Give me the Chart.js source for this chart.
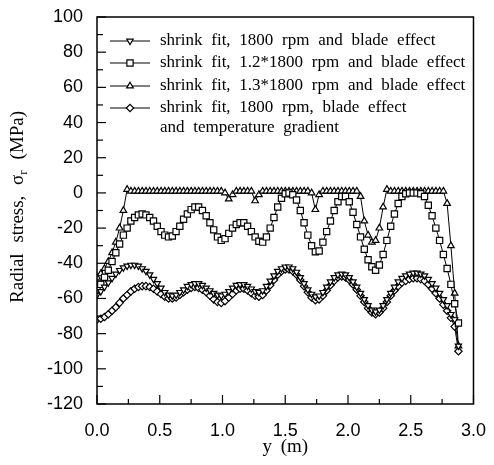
<!DOCTYPE html>
<html>
<head>
<meta charset="utf-8">
<script src="https://cdn.jsdelivr.net/npm/chart.js@4.4.1/dist/chart.umd.min.js"></script>
<style>
  html, body { margin: 0; padding: 0; background: #fff; }
</style>
</head>
<body>
<canvas id="myChart" width="494" height="465"></canvas>
<script>
// radial position y (m)
const yPos = [0.00, 0.03, 0.06, 0.09, 0.12, 0.15, 0.18, 0.21, 0.24, 0.27,
  0.30, 0.33, 0.36, 0.39, 0.42, 0.45, 0.48, 0.51, 0.54, 0.57,
  0.60, 0.63, 0.66, 0.69, 0.72, 0.75, 0.78, 0.81, 0.84, 0.87,
  0.90, 0.93, 0.96, 0.99, 1.02, 1.05, 1.08, 1.11, 1.14, 1.17,
  1.20, 1.23, 1.26, 1.29, 1.32, 1.35, 1.38, 1.41, 1.44, 1.47,
  1.50, 1.53, 1.56, 1.59, 1.62, 1.65, 1.68, 1.71, 1.74, 1.77,
  1.80, 1.83, 1.86, 1.89, 1.92, 1.95, 1.98, 2.01, 2.04, 2.07,
  2.10, 2.13, 2.16, 2.19, 2.22, 2.25, 2.28, 2.31, 2.34, 2.37,
  2.40, 2.43, 2.46, 2.49, 2.52, 2.55, 2.58, 2.61, 2.64, 2.67,
  2.70, 2.73, 2.76, 2.79, 2.82, 2.85, 2.88];

// shrink fit, 1800 rpm and blade effect
const rpm1800 = [-58, -56, -53.5, -51, -48.5, -46, -44, -42.5, -41.5, -41,
  -41, -41.5, -43, -44.5, -46.5, -49, -51.5, -54, -56.5, -58,
  -58.5, -58, -56.5, -55, -53, -52, -51.5, -51.5, -52.5, -54,
  -55.5, -57, -58, -58.5, -57.5, -56, -54, -52.5, -52, -52,
  -53, -54.5, -56, -56.5, -55.5, -53, -50, -47, -44.5, -43,
  -42, -42, -43, -45, -48, -51.5, -55, -57.5, -59, -58.5,
  -56.5, -53.5, -50.5, -48, -46.5, -46, -46.5, -48, -50.5, -53.5,
  -57, -60.5, -64, -66.5, -67.5, -66.5, -64, -60.5, -57, -53.5,
  -50.5, -48.5, -47, -46, -45.5, -45.5, -46, -47, -49, -51.5,
  -54, -57, -60.5, -64, -69, -72, -87];

// shrink fit, 1.2*1800 rpm and blade effect
const rpm12 = [-55, -52, -48, -44, -39, -34, -29, -24, -20, -16,
  -14, -12.5, -12, -12.5, -14, -16, -19, -22, -24, -25,
  -24.5, -22, -19, -15, -12, -9.5, -8, -8, -10, -13,
  -17, -21, -25, -27, -26, -23, -20, -18, -17, -17,
  -19, -22, -25, -27.5, -28, -25, -20, -14, -8, -3,
  -0.5, 0, -1, -4, -10, -17, -24, -30, -33.5, -33,
  -28, -22, -16, -10, -5, -2, -2, -5, -11, -18,
  -25, -32, -38, -42, -44, -41, -35, -27, -19, -12,
  -6, -2, -0.5, 0, 0, 0, -0.5, -2, -7, -13,
  -20, -27, -35, -43, -52, -63, -74];

// shrink fit, 1.3*1800 rpm and blade effect
const rpm13 = [-48, -46, -43, -39, -34, -28, -20, -10, 2, 1,
  1, 1, 1, 1, 1, 1, 1, 1, 1, 1,
  1, 1, 1, 1, 1, 1, 1, 1, 1, 1,
  1, 1, 1, 1, 0, -3.5, -1, 1, 1, 1,
  1, 1, -4.5, -1, 1, 1, 1, 1, 1, 1,
  1, 1, 1, 1, 1, 1, 1, 0, -9.5, -1,
  1, 1, 1, 1, 1, 1, 1, 1, 1, 1,
  -2, -16, -24, -28, -27, -20, -8, 2, 1, 1,
  1, 1, 1, 1, 1, 1, 1, 1, 1, 1,
  1, 1, 1, -6, -30, -57, -87];

// shrink fit, 1800 rpm, blade effect and temperature gradient
const rpmTemp = [-72, -71.5, -70.5, -69, -67, -65, -62.5, -60, -58, -56,
  -54.5, -53.5, -53, -53, -53.5, -54.5, -56, -57.5, -59, -60,
  -60, -59.5, -58, -56.5, -55, -54, -53.5, -54, -55, -56.5,
  -58.5, -60.5, -62, -62.5, -61.5, -59.5, -57.5, -55.5, -54.5, -54.5,
  -55.5, -57, -58.5, -59, -58, -55.5, -52.5, -49.5, -46.5, -44.5,
  -43.5, -43.5, -44.5, -46.5, -49.5, -53, -56.5, -59.5, -61, -60.5,
  -58.5, -55.5, -52.5, -50, -48, -47.5, -48, -49.5, -52, -55,
  -58.5, -62, -65.5, -68, -69, -68, -65.5, -62, -58.5, -55.5,
  -53, -51, -50, -49, -48.5, -48.5, -49, -50, -52, -54.5,
  -57, -60, -63.5, -67, -71, -76, -90];

const labels = [
  ['shrink fit, 1800 rpm and blade effect'],
  ['shrink fit, 1.2*1800 rpm and blade effect'],
  ['shrink fit, 1.3*1800 rpm and blade effect'],
  ['shrink fit, 1800 rpm, blade effect', 'and temperature gradient']
];
const seriesList = [rpm1800, rpm12, rpm13, rpmTemp];
const marks = [
  { style: 'triangle', rot: 180, r: 3.6 },
  { style: 'rect', rot: 0, r: 4.4 },
  { style: 'triangle', rot: 0, r: 3.8 },
  { style: 'rectRot', rot: 0, r: 3.7 }
];

const toPts = arr => arr.map((v, i) => ({ x: yPos[i], y: v }));

const datasets = seriesList.map((s, i) => ({
  label: labels[i].join(' '),
  data: toPts(s),
  showLine: true,
  borderColor: '#000',
  borderWidth: 1,
  tension: 0,
  pointStyle: marks[i].style,
  pointRotation: marks[i].rot,
  pointRadius: marks[i].r,
  pointBorderColor: '#000',
  pointBackgroundColor: '#fff',
  pointBorderWidth: 1.2
}));

const isMult = (v, step) => Math.abs(v / step - Math.round(v / step)) < 1e-6;
const SERIF = '"Liberation Serif", "Times New Roman", serif';

const decor = {
  id: 'decor',
  afterDraw(chart) {
    const ctx = chart.ctx;
    const a = chart.chartArea;
    const sx = chart.scales.x, sy = chart.scales.y;
    ctx.save();
    ctx.strokeStyle = '#000';
    ctx.lineWidth = 1.5;
    ctx.strokeRect(a.left, a.top, a.right - a.left, a.bottom - a.top);

    // inside ticks
    ctx.lineWidth = 1.2;
    sx.ticks.forEach(t => {
      const px = sx.getPixelForValue(t.value);
      const len = isMult(t.value, 0.5) ? 9 : 5;
      ctx.beginPath(); ctx.moveTo(px, a.bottom); ctx.lineTo(px, a.bottom - len); ctx.stroke();
    });
    sy.ticks.forEach(t => {
      const py = sy.getPixelForValue(t.value);
      const len = isMult(t.value, 20) ? 9 : 6;
      ctx.beginPath(); ctx.moveTo(a.left, py); ctx.lineTo(a.left + len, py); ctx.stroke();
    });

    // axis titles
    ctx.fillStyle = '#000';
    ctx.font = '19px ' + SERIF;
    ctx.textBaseline = 'middle';
    ctx.textAlign = 'center';
    ctx.wordSpacing = '4px';
    ctx.fillText('y (m)', (a.left + a.right) / 2, 447);

    const p1 = 'Radial stress, \u03c3', p3 = ' (MPa)';
    ctx.textAlign = 'left';
    ctx.wordSpacing = '6px';
    const w1 = ctx.measureText(p1).width;
    const w3 = ctx.measureText(p3).width;
    ctx.font = '13px ' + SERIF;
    const w2 = ctx.measureText('r').width;
    const total = w1 + w2 + w3;
    ctx.translate(18, 207);
    ctx.rotate(-Math.PI / 2);
    ctx.font = '19px ' + SERIF;
    ctx.fillText(p1, -total / 2, 0);
    ctx.font = '13px ' + SERIF;
    ctx.fillText('r', -total / 2 + w1, 6);
    ctx.font = '19px ' + SERIF;
    ctx.fillText(p3, -total / 2 + w1 + w2, 0);
    ctx.setTransform(1, 0, 0, 1, 0, 0);

    // legend
    ctx.font = '17px ' + SERIF;
    ctx.wordSpacing = '4.5px';
    ctx.textAlign = 'left';
    ctx.textBaseline = 'middle';
    const rows = [24, 46, 69, 91];
    labels.forEach((lines, i) => {
      const ry = a.top + rows[i];
      ctx.strokeStyle = '#000';
      ctx.lineWidth = 1;
      ctx.beginPath(); ctx.moveTo(a.left + 13, ry); ctx.lineTo(a.left + 53, ry); ctx.stroke();
      ctx.fillStyle = '#fff';
      ctx.lineWidth = 1.2;
      Chart.helpers.drawPoint(ctx, { pointStyle: marks[i].style, rotation: marks[i].rot, radius: marks[i].r, borderWidth: 1.2 }, a.left + 33, ry);
      ctx.fillStyle = '#000';
      lines.forEach((ln, k) => ctx.fillText(ln, a.left + 63, ry + k * 20));
    });
    ctx.restore();
  }
};

new Chart(document.getElementById('myChart'), {
  type: 'scatter',
  data: { datasets: datasets },
  options: {
    responsive: false,
    animation: false,
    layout: { padding: { left: 0, top: 17, right: 14, bottom: 0 } },
    plugins: { legend: { display: false }, tooltip: { enabled: false } },
    scales: {
      x: {
        type: 'linear', min: 0, max: 3,
        grid: { display: false },
        border: { display: false },
        afterFit: s => { s.height = 61; },
        ticks: {
          stepSize: 0.25, autoSkip: false, maxRotation: 0, padding: 8,
          color: '#000',
          font: { family: '"Liberation Sans", Arial, sans-serif', size: 18 },
          callback: v => isMult(v, 0.5) ? v.toFixed(1) : ''
        }
      },
      y: {
        type: 'linear', min: -120, max: 100,
        grid: { display: false },
        border: { display: false },
        afterFit: s => { s.width = 97; },
        ticks: {
          stepSize: 10, autoSkip: false, padding: 6,
          color: '#000',
          font: { family: '"Liberation Sans", Arial, sans-serif', size: 18 },
          callback: v => isMult(v, 20) ? v : ''
        }
      }
    }
  },
  plugins: [decor]
});
</script>
</body>
</html>
